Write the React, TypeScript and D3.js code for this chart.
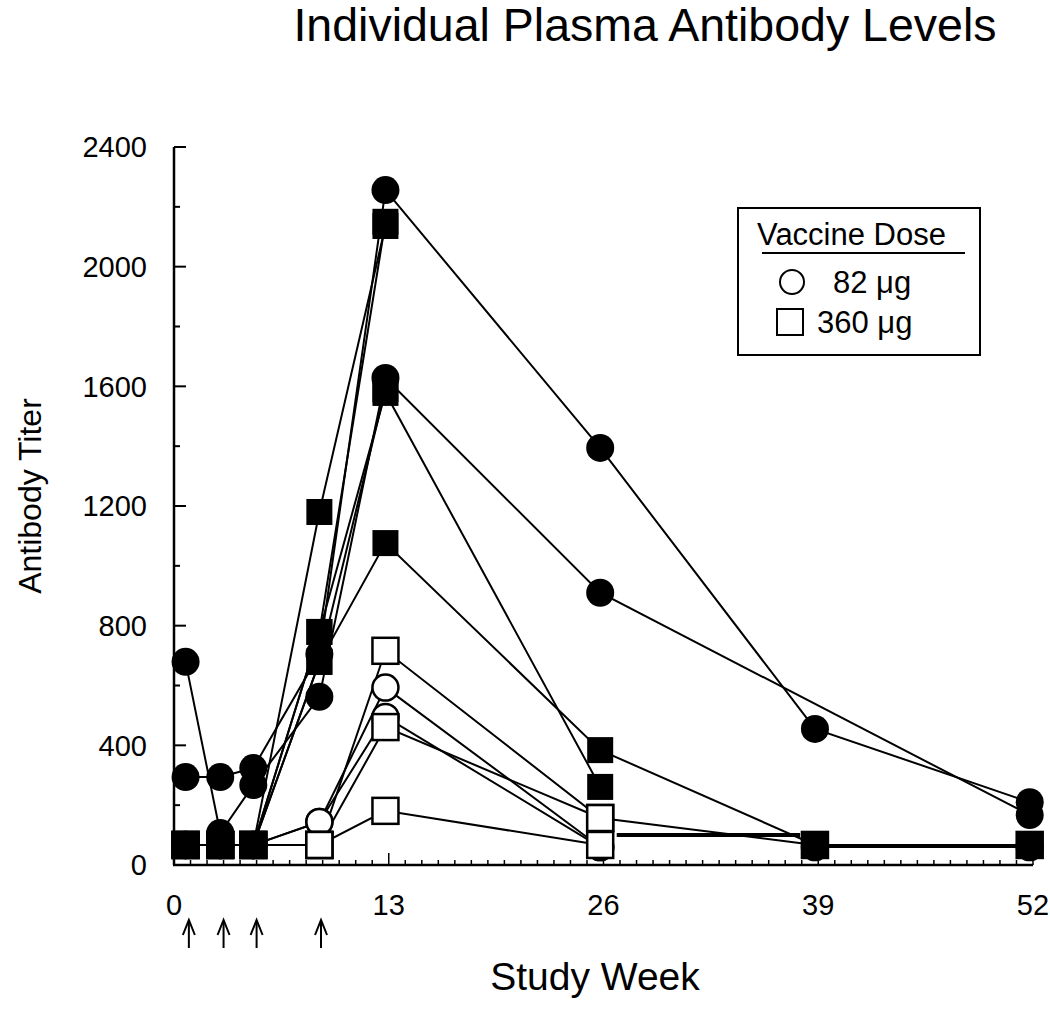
import React from 'react';
import * as d3 from 'd3';

// Study weeks at which titers were sampled
const weeks = [0.7, 2.8, 4.8, 8.8, 12.8, 25.8, 38.8, 51.8];

// Individual subjects (null = no value shown)
const filledCircleA = [294, 294, 324, 705, 2256, 1394, 455, 210];
const filledCircleB = [679, 107, 267, 562, 1628, 910, null, 167];
const filledSquare1 = [67, 67, 67, 1180, 2136, null, null, null];
const filledSquare2 = [67, 67, 67, 779, 2150, null, null, null];
const filledSquare3 = [67, 67, 67, 779, 1578, 261, null, null];
const filledSquare4 = [67, 67, 67, 679, 1590, null, null, null];
const filledSquare5 = [67, 67, 67, 679, 1076, 384, 67, 67];
const openCircle1 = [67, 67, 67, 144, 593, 60, null, null];
const openCircle2 = [67, 67, 67, 144, 495, 60, null, null];
const openCircle3 = [null, null, null, null, null, null, 60, 60];
const openSquare1 = [67, 67, 67, 67, 716, 157, 67, 67];
const openSquare2 = [67, 67, 67, 67, 461, 157, null, null];
const openSquare3 = [67, 67, 67, 67, 181, 67, null, null];

// flat connecting segment between week 26 and 39 (drawn heavier)
const flatSegmentWeeks = [26.8, 37.9];
const flatSegmentTiters = [100, 100];

// vaccination arrows
const arrowWeeks = [0.9, 3.0, 5.0, 8.9];

const xTickLabels = [0, 13, 26, 39, 52];
const yTickLabels = [0, 400, 800, 1200, 1600, 2000, 2400];

type Series = { shape: 'circle' | 'square'; filled: boolean; values: (number | null)[] };

const series: Series[] = [
  { shape: 'circle', filled: false, values: openCircle1 },
  { shape: 'circle', filled: false, values: openCircle2 },
  { shape: 'circle', filled: false, values: openCircle3 },
  { shape: 'circle', filled: true, values: filledCircleA },
  { shape: 'circle', filled: true, values: filledCircleB },
  { shape: 'square', filled: false, values: openSquare1 },
  { shape: 'square', filled: false, values: openSquare2 },
  { shape: 'square', filled: false, values: openSquare3 },
  { shape: 'square', filled: true, values: filledSquare1 },
  { shape: 'square', filled: true, values: filledSquare2 },
  { shape: 'square', filled: true, values: filledSquare3 },
  { shape: 'square', filled: true, values: filledSquare4 },
  { shape: 'square', filled: true, values: filledSquare5 },
];

const FONT = '"Liberation Sans", Arial, Helvetica, sans-serif';

export default function App() {
  const W = 1050;
  const H = 1029;
  const x = d3.scaleLinear().domain([0, 52]).range([174, 1033]);
  const y = d3.scaleLinear().domain([0, 2400]).range([865, 147]);
  const line = d3
    .line<[number, number]>()
    .x((d) => x(d[0]))
    .y((d) => y(d[1]));

  const pts = (s: Series) =>
    s.values
      .map((v, i) => (v == null ? null : ([weeks[i], v] as [number, number])))
      .filter((p): p is [number, number] => p !== null);

  const R = 13;
  const S = 26;

  const xMinor = d3.range(1, 53);
  const yMinor = d3.range(0, 2401, 200);

  return (
    <svg
      width={W}
      height={H}
      style={{ position: 'absolute', left: 0, top: 0, background: '#fff' }}
      fontFamily={FONT}
    >
      <rect x={0} y={0} width={W} height={H} fill="#fff" />
      {/* title */}
      <text x={645} y={41} fontSize={46.5} textAnchor="middle" fill="#000">
        Individual Plasma Antibody Levels
      </text>

      {/* axes */}
      <line x1={x(0)} x2={x(0)} y1={y(2400)} y2={y(0)} stroke="#000" strokeWidth={2.5} />
      <line x1={x(0) - 1} x2={x(52)} y1={y(0)} y2={y(0)} stroke="#000" strokeWidth={2.5} />
      {yMinor.map((v) => (
        <line
          key={'yt' + v}
          x1={x(0)}
          x2={x(0) + (v % 400 === 0 ? 12 : 6)}
          y1={y(v)}
          y2={y(v)}
          stroke="#000"
          strokeWidth={2}
        />
      ))}
      {xMinor.map((w) => (
        <line
          key={'xt' + w}
          x1={x(w)}
          x2={x(w)}
          y1={y(0)}
          y2={y(0) - (w % 13 === 0 ? 12 : 5)}
          stroke="#000"
          strokeWidth={1.5}
        />
      ))}
      {yTickLabels.map((v) => (
        <text
          key={'yl' + v}
          x={147}
          y={y(v)}
          dy="0.36em"
          fontSize={29}
          textAnchor="end"
          fill="#000"
        >
          {v}
        </text>
      ))}
      {xTickLabels.map((w) => (
        <text
          key={'xl' + w}
          x={x(w)}
          y={915}
          fontSize={29}
          textAnchor="middle"
          fill="#000"
        >
          {w}
        </text>
      ))}

      {/* axis titles */}
      <text x={595} y={990} fontSize={39} textAnchor="middle" fill="#000">
        Study Week
      </text>
      <text
        transform={`translate(41, 496) rotate(-90)`}
        fontSize={32}
        textAnchor="middle"
        fill="#000"
      >
        Antibody Titer
      </text>

      {/* vaccination arrows */}
      {arrowWeeks.map((w) => (
        <g key={'ar' + w} stroke="#000" strokeWidth={2} fill="none">
          <line x1={x(w)} x2={x(w)} y1={948} y2={921} />
          <polyline points={`${x(w) - 6},${935} ${x(w)},${920} ${x(w) + 6},${935}`} />
        </g>
      ))}

      {/* lines */}
      {series.map((s, i) => (
        <path key={'ln' + i} d={line(pts(s)) || ''} fill="none" stroke="#000" strokeWidth={2} />
      ))}
      <path
        d={line(flatSegmentWeeks.map((w, i) => [w, flatSegmentTiters[i]] as [number, number])) || ''}
        fill="none"
        stroke="#000"
        strokeWidth={4}
      />

      {/* markers: circles first, then squares */}
      {series
        .filter((s) => s.shape === 'circle')
        .map((s, i) =>
          pts(s).map((p, j) => (
            <circle
              key={`c${i}-${j}`}
              cx={x(p[0])}
              cy={y(p[1])}
              r={s.filled ? R + 1 : R}
              fill={s.filled ? '#000' : '#fff'}
              stroke="#000"
              strokeWidth={s.filled ? 0 : 2.5}
            />
          ))
        )}
      {series
        .filter((s) => s.shape === 'square')
        .map((s, i) =>
          pts(s).map((p, j) => (
            <rect
              key={`s${i}-${j}`}
              x={x(p[0]) - S / 2}
              y={y(p[1]) - S / 2}
              width={S}
              height={S}
              fill={s.filled ? '#000' : '#fff'}
              stroke="#000"
              strokeWidth={s.filled ? 0 : 2.5}
            />
          ))
        )}

      {/* legend */}
      <g>
        <rect x={738} y={208} width={242} height={147} fill="#fff" stroke="#000" strokeWidth={2} />
        <text x={757} y={245} fontSize={31} fill="#000">
          Vaccine Dose
        </text>
        <line x1={762} x2={965} y1={253} y2={253} stroke="#000" strokeWidth={2} />
        <circle cx={792} cy={282} r={12} fill="#fff" stroke="#000" strokeWidth={2} />
        <text x={833} y={293} fontSize={31} fill="#000">
          82 μg
        </text>
        <rect x={777} y={309} width={26} height={26} fill="#fff" stroke="#000" strokeWidth={2} />
        <text x={817} y={333} fontSize={31} fill="#000">
          360 μg
        </text>
      </g>
    </svg>
  );
}
